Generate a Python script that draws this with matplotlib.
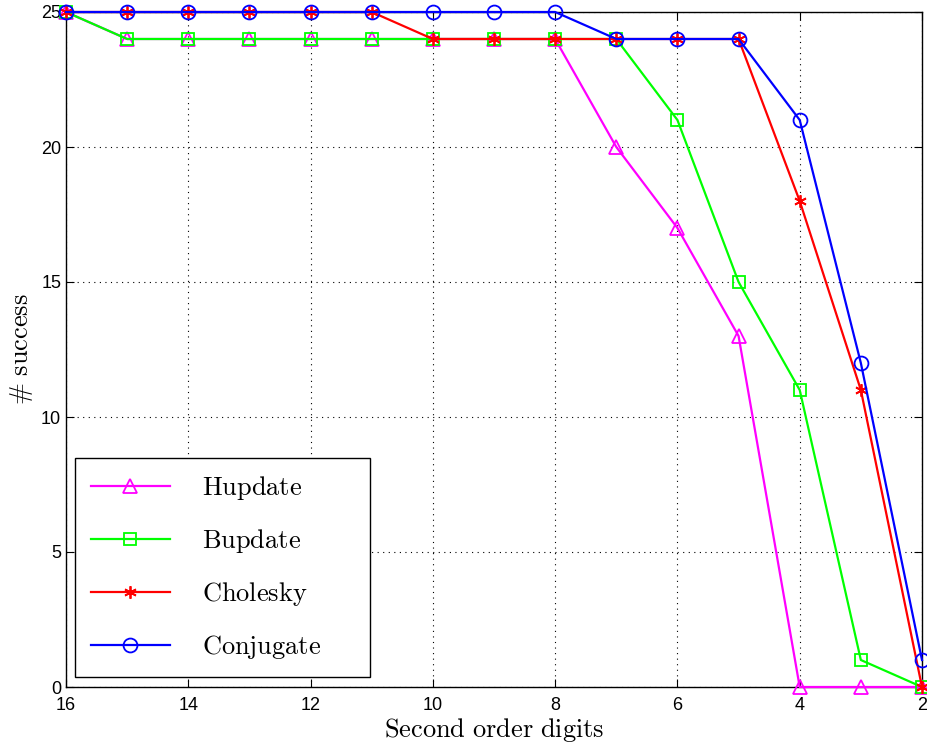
import matplotlib
matplotlib.use("Agg")
import matplotlib.pyplot as plt

plt.rcParams['mathtext.fontset'] = 'cm'

digits = [16, 15, 14, 13, 12, 11, 10, 9, 8, 7, 6, 5, 4, 3, 2]
hupdate = [25, 24, 24, 24, 24, 24, 24, 24, 24, 20, 17, 13, 0, 0, 0]
bupdate = [25, 24, 24, 24, 24, 24, 24, 24, 24, 24, 21, 15, 11, 1, 0]
cholesky = [25, 25, 25, 25, 25, 25, 24, 24, 24, 24, 24, 24, 18, 11, 0]
conjugate = [25, 25, 25, 25, 25, 25, 25, 25, 25, 24, 24, 24, 21, 12, 1]

labels = ["Hupdate", "Bupdate", "Cholesky", "Conjugate"]
xticks = [16, 14, 12, 10, 8, 6, 4, 2]
yticks = [0, 5, 10, 15, 20, 25]

fig = plt.figure(figsize=(9.27, 7.5), dpi=100)
ax = fig.add_axes([0.0712, 0.084, 0.9234, 0.900])

styles = [
    dict(color=(1, 0, 1), marker='^', ms=10, mfc='none', mew=1.3),
    dict(color=(0, 1, 0), marker='s', ms=8, mfc='none', mew=1.3),
    dict(color=(1, 0, 0), marker=(6, 2, 0), ms=9, mew=1.3),
    dict(color=(0, 0, 1), marker='o', ms=10, mfc='none', mew=1.3),
]
for data, lab, st in zip([hupdate, bupdate, cholesky, conjugate], labels, styles):
    ax.plot(digits, data, lw=1.6, label=r'$\mathrm{%s}$' % lab, clip_on=False, zorder=3, **st)

ax.set_xlim(16, 2)
ax.set_ylim(0, 25)
ax.set_xticks(xticks)
ax.set_yticks(yticks)
ax.tick_params(direction='in', top=True, right=True, labelsize=13, length=6, width=0.8)
ax.tick_params(axis='x', pad=7)
for lab in ax.get_xticklabels() + ax.get_yticklabels():
    lab.set_family('Liberation Sans')
ax.grid(True, linestyle=(0, (1, 4)), color='black', linewidth=0.8)
for sp in ax.spines.values():
    sp.set_linewidth(1.0)

ax.set_xlabel(r'$\mathrm{Second\ order\ digits}$', fontsize=19, labelpad=2)
ax.set_ylabel(r'$\#\ \mathrm{success}$', fontsize=19, labelpad=4)

leg = ax.legend(loc='lower left', bbox_to_anchor=(0.0105, 0.0148, 0.345, 0.3),
                mode='expand', fontsize=19,
                handlelength=3.0, handletextpad=1.2, labelspacing=0.95,
                borderpad=0.6, borderaxespad=0.0, fancybox=False,
                edgecolor='black', framealpha=1)
leg.get_frame().set_linewidth(1.0)

fig.savefig('out.png', dpi=100)
